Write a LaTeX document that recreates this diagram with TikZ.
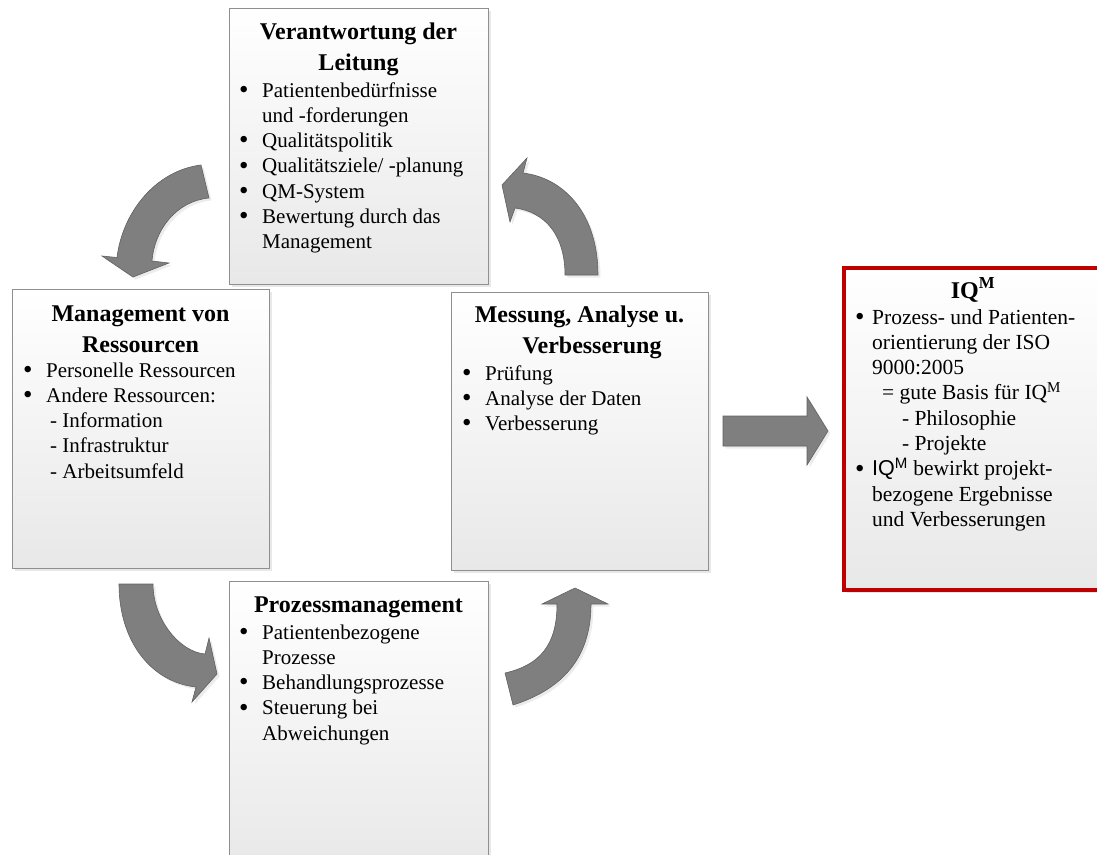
\documentclass[tikz,border=0pt]{standalone}
\usepackage{fontspec}
\setmainfont{Liberation Serif}
\setsansfont{Liberation Sans}
\usetikzlibrary{shadows}
\definecolor{boxline}{HTML}{8F8F8F}
\definecolor{boxbot}{HTML}{E8E8E8}
\definecolor{arrfill}{HTML}{7F7F7F}
\definecolor{arredge}{HTML}{606060}
\definecolor{iqred}{HTML}{C00000}
\newcommand\bul[1][23pt]{\makebox[#1][l]{\raisebox{-1.2pt}{\fontsize{27pt}{27pt}\selectfont\textbullet}}}
\begin{document}
\begin{tikzpicture}[x=1pt,y=-1pt,
  panel/.style={draw=boxline, line width=0.8pt, top color=white, bottom color=boxbot,
    anchor=north west, inner sep=0pt, outer sep=0pt,
    drop shadow={shadow xshift=3pt, shadow yshift=-3pt, fill=black!18}},
  redpanel/.style={panel, draw=iqred, line width=4.5pt},
  head/.style={inner sep=0pt, anchor=base, align=flush center, text width=259pt,
    font=\bfseries\fontsize{24pt}{31pt}\selectfont},
  body/.style={inner sep=0pt, anchor=base west, align=flush left, text width=250pt,
    font=\fontsize{21pt}{25.3pt}\selectfont},
  blockarrow/.style={fill=arrfill, draw=arredge, line width=0.6pt,
    drop shadow={shadow xshift=2.5pt, shadow yshift=-2.5pt, fill=black!15}}
]
\useasboundingbox (0,0) rectangle (1097,854);

% panels
\node[panel, minimum width=259pt, minimum height=276pt] (A) at (229,8) {};
\node[panel, minimum width=257pt, minimum height=279pt] (B) at (12,289) {};
\node[panel, minimum width=257pt, minimum height=278pt] (C) at (451,292) {};
\node[panel, minimum width=259pt, minimum height=290pt] (D) at (229,581) {};
\node[redpanel, minimum width=262pt, minimum height=322pt] (E) at (844,268) {};

% top box
\node[head] (Ah) at (358.5,39) {Verantwortung der\\Leitung};
\node[body] (Ab) at (239,97) {\bul Patientenbedürfnisse\\
\hspace*{23pt}und -forderungen\\
\bul Qualitätspolitik\\
\bul Qualitätsziele/ -planung\\
\bul QM-System\\
\bul Bewertung durch das\\
\hspace*{23pt}Management};

% left box
\node[head] (Bh) at (140.5,321) {Management von\\Ressourcen};
\node[body] (Bb) at (23,377) {\bul Personelle Ressourcen\\
\bul Andere Ressourcen:\\
\hspace*{27pt}- Information\\
\hspace*{27pt}- Infrastruktur\\
\hspace*{27pt}- Arbeitsumfeld};

% right box
\node[head] (Ch) at (579.5,322) {Messung, Analyse u.\\\hspace*{25pt}Verbesserung};
\node[body] (Cb) at (462,380) {\bul Prüfung\\
\bul Analyse der Daten\\
\bul Verbesserung};

% bottom box
\node[head] (Dh) at (358.5,612) {Prozessmanagement};
\node[body] (Db) at (239,639) {\bul Patientenbezogene\\
\hspace*{23pt}Prozesse\\
\bul Behandlungsprozesse\\
\bul Steuerung bei\\
\hspace*{23pt}Abweichungen};

% IQM box
\node[head, text width=250pt] (Eh) at (973,298) {IQ\textsuperscript{M}};
\node[body, font=\fontsize{21.5pt}{25.3pt}\selectfont] (Eb) at (855,324) {\bul[17pt]Prozess- und Patienten-\\
\hspace*{17pt}orientierung der ISO\\
\hspace*{17pt}9000:2005\\
\hspace*{27pt}= gute Basis für IQ\textsuperscript{M}\\
\hspace*{47pt}- Philosophie\\
\hspace*{47pt}- Projekte\\
\bul[17pt]{\sffamily IQ\textsuperscript{M}} bewirkt projekt-\\
\hspace*{17pt}bezogene Ergebnisse\\
\hspace*{17pt}und Verbesserungen};

% curved arrows
\draw[blockarrow] (201,165) .. controls (156,170.5) and (122.5,212) .. (117,257.5)
  -- (102,256) -- (133,277) -- (169,263) -- (152,261)
  .. controls (154.5,229) and (177,201) .. (209,198) -- cycle;
\draw[blockarrow] (598,275) .. controls (598,215) and (565,178) .. (523,173)
  -- (527,158) -- (502,185) -- (510,222) -- (515,208)
  .. controls (545,212) and (565,235) .. (565,275) -- cycle;
\draw[blockarrow] (119,584) -- (153,584) .. controls (153,620) and (180,652) .. (205,654)
  -- (209,638) -- (217,674) -- (192,702) -- (196,687)
  .. controls (150,682) and (119,640) .. (119,584) -- cycle;
\draw[blockarrow] (505,673) -- (513,705) .. controls (560,690) and (591,660) .. (591,604)
  -- (608,604) -- (575,588) -- (542,604) -- (557,604)
  .. controls (557,645) and (540,665) .. (505,673) -- cycle;
% straight arrow
\draw[blockarrow] (723,416) -- (807,416) -- (807,397) -- (828,431) -- (807,465)
  -- (807,446) -- (723,446) -- cycle;
\end{tikzpicture}
\end{document}
